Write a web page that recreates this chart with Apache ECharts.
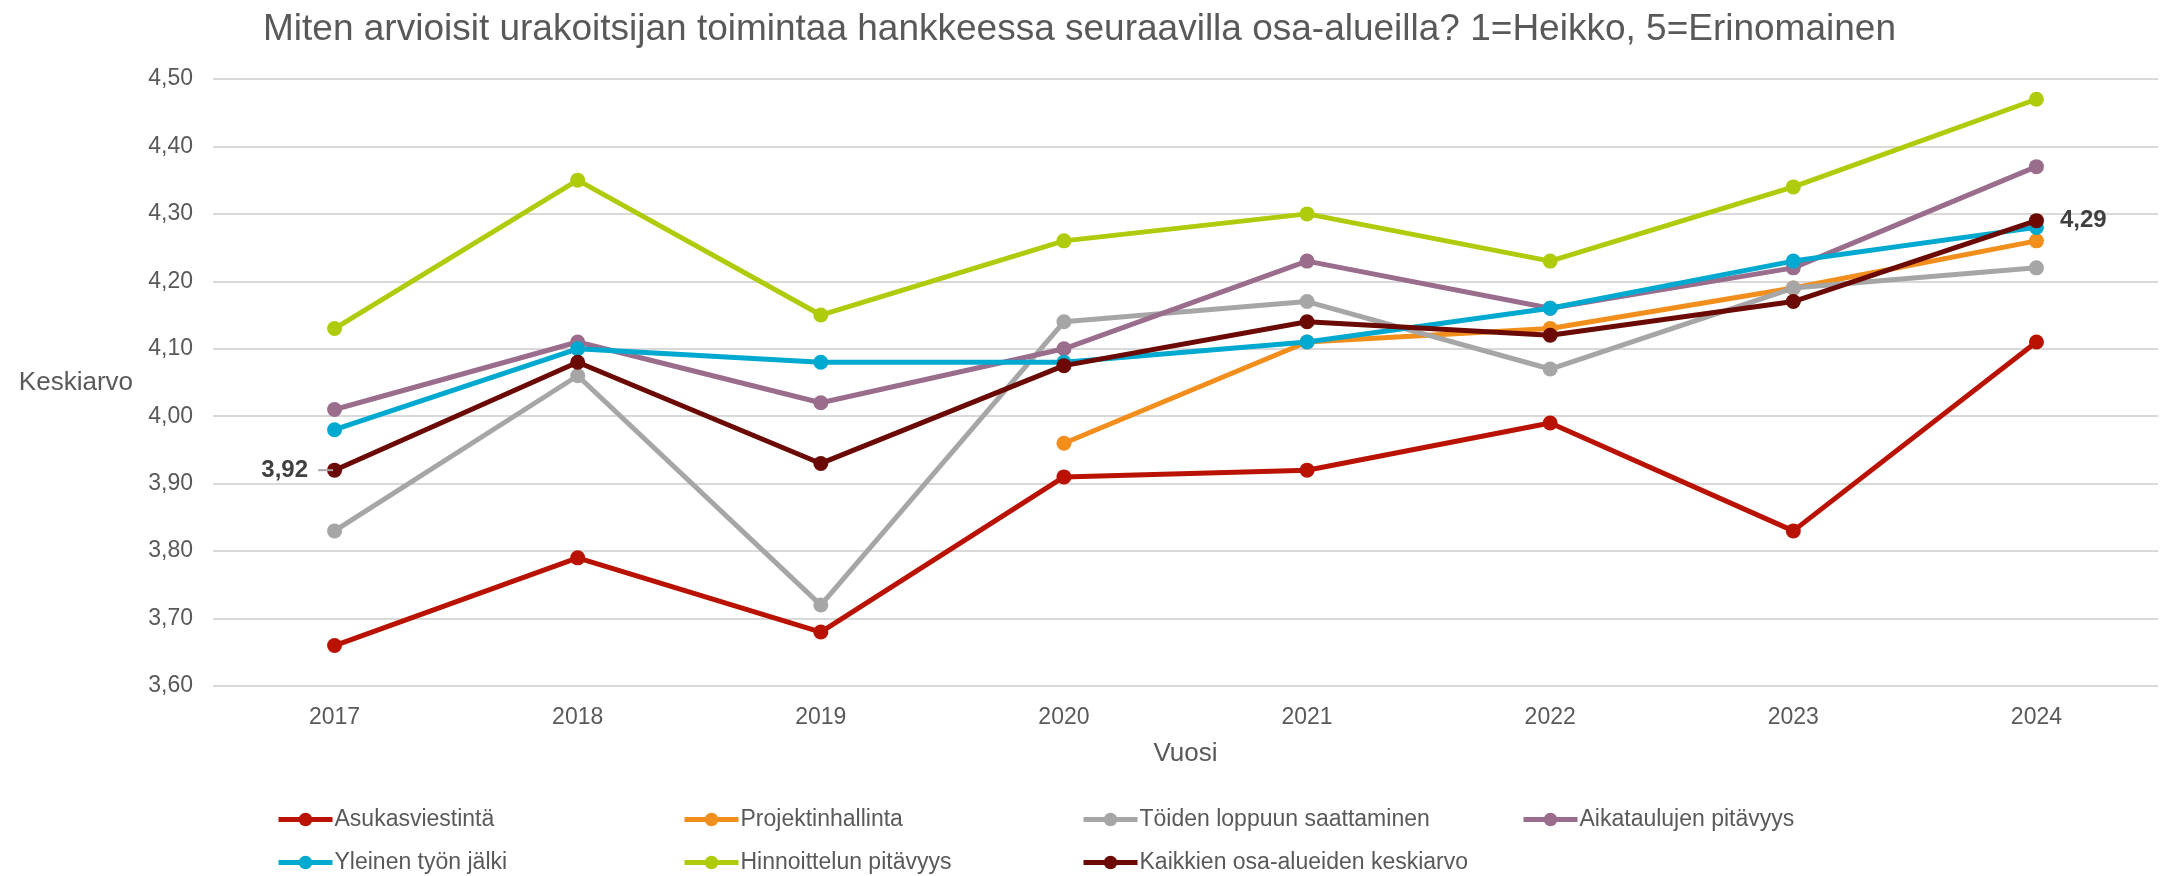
<!DOCTYPE html>
<html style="height: 100%">
   <head>
       <meta charset="utf-8">
   </head>
   <body style="height: 100%;margin: 0">
       <div id="container" style="height: 876px; width:2165px;"></div>
       <script type="text/javascript" src="https://cdn.jsdelivr.net/npm/echarts@6/dist/echarts.min.js"></script>
       <script type="text/javascript">

var years = ['2017', '2018', '2019', '2020', '2021', '2022', '2023', '2024'];
var asukasviestinta = [3.66, 3.79, 3.68, 3.91, 3.92, 3.99, 3.83, 4.11];
var projektinhallinta = [null, null, null, 3.96, 4.11, 4.13, 4.19, 4.26];
var toidenLoppuun = [3.83, 4.06, 3.72, 4.14, 4.17, 4.07, 4.19, 4.22];
var aikataulut = [4.01, 4.11, 4.02, 4.10, 4.23, 4.16, 4.22, 4.37];
var yleinenJalki = [3.98, 4.10, 4.08, 4.08, 4.11, 4.16, 4.23, 4.28];
var hinnoittelu = [4.13, 4.35, 4.15, 4.26, 4.30, 4.23, 4.34, 4.47];
var keskiarvo = [3.92, 4.08, 3.93, 4.075, 4.14, 4.12, 4.17, 4.29];

var seriesNames = ['Asukasviestintä', 'Projektinhallinta', 'Töiden loppuun saattaminen',
    'Aikataulujen pitävyys', 'Yleinen työn jälki', 'Hinnoittelun pitävyys', 'Kaikkien osa-alueiden keskiarvo'];
var seriesData = [asukasviestinta, projektinhallinta, toidenLoppuun, aikataulut, yleinenJalki, hinnoittelu, keskiarvo];
var colors = ['#BA1200', '#F28E1C', '#A6A6A6', '#9A6D8D', '#00A9CF', '#B0CB0B', '#6B0A04'];

var font = 'Liberation Sans, Arial, sans-serif';
var dom = document.getElementById("container");
var myChart = echarts.init(dom);

function fmt(v) {
    return v.toFixed(2).replace('.', ',');
}

// legend positions [left, top]
var legendPos = [[276, 808], [682, 808], [1081, 808], [1521, 808],
                 [276, 851], [682, 851], [1081, 851]];

var legends = seriesNames.map(function (name, i) {
    return {
        data: [name],
        left: legendPos[i][0],
        top: legendPos[i][1],
        padding: 0,
        itemWidth: 54,
        itemHeight: 17,
        itemGap: 0,
        lineStyle: { width: 5 },
        textStyle: { color: '#595959', fontSize: 23, fontFamily: font, padding: [0, 0, 0, -3] }
    };
});

var series = seriesNames.map(function (name, i) {
    var s = {
        name: name,
        type: 'line',
        data: seriesData[i],
        symbol: 'circle',
        symbolSize: 15,
        connectNulls: false,
        lineStyle: { width: 5, color: colors[i] },
        itemStyle: { color: colors[i] },
        z: 2 + i
    };
    if (i === 6) {
        s.data = seriesData[i].map(function (v, j) {
            if (j === 0) {
                return { value: v, label: { show: true, position: 'left', distance: 0, offset: [6, 0],
                    formatter: function (p) { return '{v|' + fmt(p.value) + '}{g| }{d| }'; } } };
            }
            if (j === seriesData[i].length - 1) {
                return { value: v, label: { show: true, position: 'right', distance: 16,
                    formatter: function (p) { return '{v|' + fmt(p.value) + '}'; } } };
            }
            return v;
        });
        s.label = {
            rich: {
                v: { fontSize: 24, fontWeight: 'bold', color: '#404040', fontFamily: font },
                g: { width: 10, fontSize: 10 },
                d: { width: 15, height: 2, fontSize: 2, backgroundColor: '#A6A6A6' }
            }
        };
    }
    return s;
});

var option = {
    animation: false,
    color: colors,
    title: {
        text: 'Miten arvioisit urakoitsijan toimintaa hankkeessa seuraavilla osa-alueilla? 1=Heikko, 5=Erinomainen',
        left: 258,
        top: 6,
        textStyle: { color: '#595959', fontSize: 37, fontWeight: 'normal', fontFamily: font }
    },
    legend: legends,
    grid: { left: 213, right: 7, top: 79, bottom: 190 },
    xAxis: {
        type: 'category',
        data: years,
        boundaryGap: true,
        name: 'Vuosi',
        nameLocation: 'middle',
        nameGap: 55,
        nameTextStyle: { color: '#595959', fontSize: 26, fontFamily: font },
        axisLine: { show: false },
        axisTick: { show: false },
        axisLabel: { color: '#595959', fontSize: 23, fontFamily: font, margin: 20 }
    },
    yAxis: {
        type: 'value',
        min: 3.6,
        max: 4.5,
        interval: 0.1,
        name: 'Keskiarvo',
        nameLocation: 'middle',
        nameRotate: 0,
        nameGap: 80,
        nameTextStyle: { color: '#595959', fontSize: 26, fontFamily: font },
        axisLine: { show: false },
        axisTick: { show: false },
        axisLabel: { color: '#595959', fontSize: 23, fontFamily: font, margin: 20,
            formatter: function (v) { return fmt(v); } },
        splitLine: { lineStyle: { color: '#D9D9D9', width: 2 } }
    },
    series: series
};

myChart.setOption(option, true);

       </script>
   </body>
</html>
